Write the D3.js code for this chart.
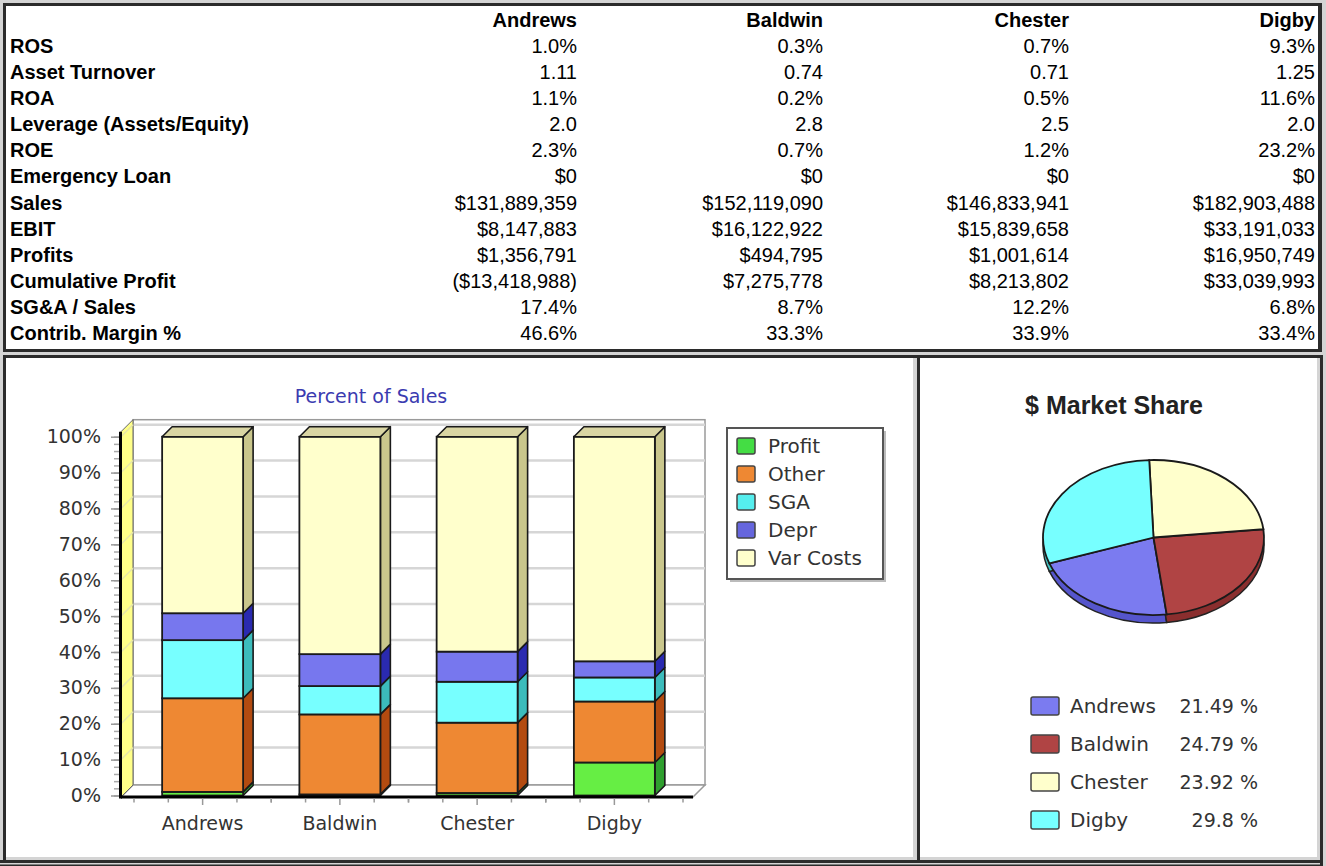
<!DOCTYPE html>
<html>
<head>
<meta charset="utf-8">
<title>Financial Summary</title>
<script src="https://cdn.jsdelivr.net/npm/d3@7"></script>
<style>
  body { margin: 0; background: #d4d4d4; }
  svg { display: block; }
</style>
</head>
<body>
<script>
// ---- data ----
var companies = ["Andrews", "Baldwin", "Chester", "Digby"];

var ros = [1.0, 0.3, 0.7, 9.3];
var assetTurnover = [1.11, 0.74, 0.71, 1.25];
var roa = [1.1, 0.2, 0.5, 11.6];
var leverage = [2.0, 2.8, 2.5, 2.0];
var roe = [2.3, 0.7, 1.2, 23.2];
var emergencyLoan = [0, 0, 0, 0];
var sales = [131889359, 152119090, 146833941, 182903488];
var ebit = [8147883, 16122922, 15839658, 33191033];
var profits = [1356791, 494795, 1001614, 16950749];
var cumulativeProfit = [-13418988, 7275778, 8213802, 33039993];
var sgaSales = [17.4, 8.7, 12.2, 6.8];
var contribMargin = [46.6, 33.3, 33.9, 33.4];

// percent of sales
var segmentKeys = ["Profit", "Other", "SGA", "Depr", "Var Costs"];
var profitPct = [1.0, 0.3, 0.7, 9.2];
var otherPct = [26.1, 22.3, 19.6, 17.0];
var sgaPct = [16.2, 7.9, 11.4, 6.7];
var deprPct = [7.5, 8.9, 8.4, 4.5];
var varCostPct = [49.2, 60.6, 59.9, 62.6];
var yTickValues = [0, 10, 20, 30, 40, 50, 60, 70, 80, 90, 100];

var marketShare = [21.49, 24.79, 23.92, 29.8];

// ---- formatting ----
var pct1 = function(v) { return d3.format(".1f")(v) + "%"; };
var dollars = function(v) {
  return v < 0 ? "($" + d3.format(",")(-v) + ")" : "$" + d3.format(",")(v);
};

var tableRows = [
  ["ROS", ros, pct1],
  ["Asset Turnover", assetTurnover, d3.format(".2f")],
  ["ROA", roa, pct1],
  ["Leverage (Assets/Equity)", leverage, d3.format(".1f")],
  ["ROE", roe, pct1],
  ["Emergency Loan", emergencyLoan, dollars],
  ["Sales", sales, dollars],
  ["EBIT", ebit, dollars],
  ["Profits", profits, dollars],
  ["Cumulative Profit", cumulativeProfit, dollars],
  ["SG&A / Sales", sgaSales, pct1],
  ["Contrib. Margin %", contribMargin, pct1]
];

var W = 1326, H = 866;
var svg = d3.select("body").append("svg").attr("width", W).attr("height", H);

// ---- panels ----
svg.append("rect").attr("width", W).attr("height", H).attr("fill", "#d4d4d4");
var dark = "#2b2b2b";
svg.append("rect").attr("x", 3).attr("y", 3).attr("width", 1319).attr("height", 349).attr("fill", dark);
svg.append("rect").attr("x", 6).attr("y", 6).attr("width", 1312).attr("height", 343).attr("fill", "#fff");

svg.append("rect").attr("x", 3).attr("y", 355).attr("width", 1320).attr("height", 3).attr("fill", dark);
svg.append("rect").attr("x", 3).attr("y", 355).attr("width", 3).attr("height", 505).attr("fill", dark);
svg.append("rect").attr("x", 6).attr("y", 358).attr("width", 907).attr("height", 499).attr("fill", "#fff");
svg.append("rect").attr("x", 917).attr("y", 355).attr("width", 3).attr("height", 505).attr("fill", dark);
svg.append("rect").attr("x", 920).attr("y", 358).attr("width", 397).attr("height", 499).attr("fill", "#fff");
svg.append("rect").attr("x", 1320).attr("y", 355).attr("width", 3).attr("height", 511).attr("fill", dark);
svg.append("rect").attr("x", 0).attr("y", 860).attr("width", 1323).attr("height", 3).attr("fill", dark);
svg.append("rect").attr("x", 0).attr("y", 864.5).attr("width", 1323).attr("height", 2).attr("fill", dark);

// ---- table ----
var tableFont = "'Liberation Sans', Arial, Helvetica, sans-serif";
var colRight = d3.scalePoint().domain(companies).range([577, 1315]);
var rowY = d3.scalePoint().domain(tableRows.map(function(r) { return r[0]; })).range([46, 333]);

var table = svg.append("g").attr("font-family", tableFont).attr("font-size", 20).attr("fill", "#000");

table.selectAll("text.head")
  .data(companies)
  .enter().append("text")
  .attr("class", "head")
  .attr("x", function(d) { return colRight(d); })
  .attr("y", 27)
  .attr("text-anchor", "end")
  .attr("font-weight", "bold")
  .text(function(d) { return d; });

var rowG = table.selectAll("g.row")
  .data(tableRows)
  .enter().append("g")
  .attr("class", "row")
  .attr("transform", function(d) { return "translate(0," + (rowY(d[0]) + 7) + ")"; });

rowG.append("text")
  .attr("x", 10)
  .attr("font-weight", "bold")
  .text(function(d) { return d[0]; });

rowG.selectAll("text.val")
  .data(function(d) { return d[1].map(function(v, i) { return {v: v, c: companies[i], f: d[2]}; }); })
  .enter().append("text")
  .attr("class", "val")
  .attr("x", function(d) { return colRight(d.c); })
  .attr("text-anchor", "end")
  .text(function(d) { return d.f(d.v); });

// ---- percent of sales (3D stacked bars) ----
var chartFont = "'DejaVu Sans', Verdana, sans-serif";
var colors = {"Profit": "#66ee44", "Other": "#ee8833", "SGA": "#77ffff", "Depr": "#7777ee", "Var Costs": "#ffffcc"};
var sideColors = {"Profit": "#2f9f2f", "Other": "#b34b10", "SGA": "#3cbcbc", "Depr": "#2a2ab0", "Var Costs": "#c9c68c"};
var legendColors = {"Profit": "#44dd44", "Other": "#ee8833", "SGA": "#55eeee", "Depr": "#6666dd", "Var Costs": "#ffffcc"};

var x = d3.scaleBand().domain(companies).range([134, 683]).paddingInner(0.41).paddingOuter(0.205);
var y = d3.scaleLinear().domain([0, 100]).range([795.5, 436.7]);
var wallD = 12, barD = 10;
var axisX = 121, floorRight = 693, floorY = 797;
var wallTop = y(100) - 5;

var bars = svg.append("g").attr("font-family", chartFont);

bars.append("text")
  .attr("x", 371).attr("y", 403)
  .attr("text-anchor", "middle")
  .attr("font-size", 19)
  .attr("fill", "#3b3bb0")
  .text("Percent of Sales");

// back wall
bars.append("rect")
  .attr("x", axisX + wallD).attr("y", wallTop - wallD)
  .attr("width", floorRight - axisX).attr("height", floorY - wallTop)
  .attr("fill", "#fff").attr("stroke", "#9a9a9a").attr("stroke-width", 1.5);

bars.selectAll("line.grid")
  .data(yTickValues.filter(function(v) { return v > 0; }))
  .enter().append("line")
  .attr("class", "grid")
  .attr("x1", axisX + wallD).attr("x2", floorRight + wallD)
  .attr("y1", function(d) { return y(d) - wallD; })
  .attr("y2", function(d) { return y(d) - wallD; })
  .attr("stroke", "#d6d6d6").attr("stroke-width", 2.5);

// floor
bars.append("path")
  .attr("d", "M" + axisX + "," + floorY + "L" + (axisX + wallD) + "," + (floorY - wallD) +
    "L" + (floorRight + wallD) + "," + (floorY - wallD) + "L" + floorRight + "," + floorY + "Z")
  .attr("fill", "#fff").attr("stroke", "#9a9a9a").attr("stroke-width", 1.5);

// left wall
bars.append("path")
  .attr("d", "M" + axisX + "," + floorY + "L" + axisX + "," + wallTop +
    "L" + (axisX + wallD) + "," + (wallTop - wallD) + "L" + (axisX + wallD) + "," + (floorY - wallD) + "Z")
  .attr("fill", "#ffff88").attr("stroke", "#666").attr("stroke-width", 1);

bars.selectAll("line.sidegrid")
  .data(yTickValues.filter(function(v) { return v > 0; }))
  .enter().append("line")
  .attr("class", "sidegrid")
  .attr("x1", axisX).attr("x2", axisX + wallD)
  .attr("y1", function(d) { return y(d); })
  .attr("y2", function(d) { return y(d) - wallD; })
  .attr("stroke", "#e6e6a8").attr("stroke-width", 1.5);

// stacked bars
var stackRows = companies.map(function(c, i) {
  return {company: c, "Profit": profitPct[i], "Other": otherPct[i], "SGA": sgaPct[i],
    "Depr": deprPct[i], "Var Costs": varCostPct[i]};
});
var series = d3.stack().keys(segmentKeys)(stackRows);
var bw = x.bandwidth();

var layer = bars.selectAll("g.layer")
  .data(series)
  .enter().append("g")
  .attr("class", "layer");

layer.selectAll("path.side")
  .data(function(s) { return s.map(function(d) { return {key: s.key, d: d}; }); })
  .enter().append("path")
  .attr("class", "side")
  .attr("d", function(o) {
    var x1 = x(o.d.data.company) + bw, yt = y(o.d[1]), yb = y(o.d[0]);
    return "M" + x1 + "," + yt + "L" + (x1 + barD) + "," + (yt - barD) +
      "L" + (x1 + barD) + "," + (yb - barD) + "L" + x1 + "," + yb + "Z";
  })
  .attr("fill", function(o) { return sideColors[o.key]; })
  .attr("stroke", "#1a1a1a").attr("stroke-width", 1.6).attr("stroke-linejoin", "round");

layer.selectAll("rect")
  .data(function(s) { return s.map(function(d) { return {key: s.key, d: d}; }); })
  .enter().append("rect")
  .attr("x", function(o) { return x(o.d.data.company); })
  .attr("y", function(o) { return y(o.d[1]); })
  .attr("width", bw)
  .attr("height", function(o) { return y(o.d[0]) - y(o.d[1]); })
  .attr("fill", function(o) { return colors[o.key]; })
  .attr("stroke", "#1a1a1a").attr("stroke-width", 1.8);

var topLayer = series[series.length - 1];
bars.selectAll("path.top")
  .data(topLayer)
  .enter().append("path")
  .attr("class", "top")
  .attr("d", function(d) {
    var x0 = x(d.data.company), yt = y(d[1]);
    return "M" + x0 + "," + yt + "L" + (x0 + barD) + "," + (yt - barD) +
      "L" + (x0 + bw + barD) + "," + (yt - barD) + "L" + (x0 + bw) + "," + yt + "Z";
  })
  .attr("fill", "#d9d5a3").attr("stroke", "#1a1a1a").attr("stroke-width", 1.6).attr("stroke-linejoin", "round");

// axis lines
bars.append("line")
  .attr("x1", axisX).attr("x2", floorRight)
  .attr("y1", floorY).attr("y2", floorY)
  .attr("stroke", "#000").attr("stroke-width", 3);
bars.append("line")
  .attr("x1", axisX - 0.5).attr("x2", axisX - 0.5)
  .attr("y1", wallTop).attr("y2", floorY + 1.5)
  .attr("stroke", "#000").attr("stroke-width", 3);

// y axis: minor ticks, then labelled ticks
var yMinor = bars.append("g")
  .attr("transform", "translate(" + (axisX - 2) + ",0)")
  .call(d3.axisLeft(y).ticks(50).tickSize(5).tickFormat(""));
yMinor.select(".domain").remove();
yMinor.selectAll("line").attr("stroke", "#aaa").attr("stroke-width", 1.5);

var yAxis = bars.append("g")
  .attr("transform", "translate(" + (axisX - 2) + ",0)")
  .call(d3.axisLeft(y).tickValues(yTickValues).tickSize(8).tickPadding(10)
    .tickFormat(function(d) { return d + "%"; }));
yAxis.select(".domain").remove();
yAxis.selectAll("line").attr("stroke", "#999").attr("stroke-width", 1.5);
yAxis.selectAll("text").attr("font-family", chartFont).attr("font-size", 19).attr("fill", "#333");

// x axis: category labels, then quarter-step ticks
var xAxis = bars.append("g")
  .attr("transform", "translate(0," + (floorY + 1) + ")")
  .call(d3.axisBottom(x).tickSize(0).tickPadding(19));
xAxis.select(".domain").remove();
xAxis.selectAll("text").attr("font-family", chartFont).attr("font-size", 19).attr("fill", "#333");

var xTicks = [];
companies.forEach(function(c) {
  var mid = x(c) + bw / 2;
  [-2, -1, 0, 1, 2].forEach(function(k) { xTicks.push({x: mid + k * x.step() / 4, major: k === 0}); });
});
bars.selectAll("line.xtick")
  .data(xTicks)
  .enter().append("line")
  .attr("class", "xtick")
  .attr("x1", function(d) { return d.x; }).attr("x2", function(d) { return d.x; })
  .attr("y1", floorY + 1.5)
  .attr("y2", function(d) { return floorY + (d.major ? 8 : 5.5); })
  .attr("stroke", "#999").attr("stroke-width", 1.5);

// legend
var lg = bars.append("g").attr("transform", "translate(727,428)");
lg.append("rect").attr("x", 3).attr("y", 3).attr("width", 156).attr("height", 151).attr("fill", "#bbb");
lg.append("rect").attr("width", 156).attr("height", 151).attr("fill", "#fff").attr("stroke", "#555").attr("stroke-width", 2);
var lgItem = lg.selectAll("g.item")
  .data(segmentKeys)
  .enter().append("g")
  .attr("class", "item")
  .attr("transform", function(d, i) { return "translate(0," + (18 + i * 28) + ")"; });
lgItem.append("rect")
  .attr("x", 10).attr("y", -8).attr("width", 18).attr("height", 16).attr("rx", 2)
  .attr("fill", function(d) { return legendColors[d]; })
  .attr("stroke", "#444").attr("stroke-width", 1.5);
lgItem.append("text")
  .attr("x", 41).attr("y", 7)
  .attr("font-size", 20).attr("fill", "#333")
  .text(function(d) { return d; });

// ---- $ market share pie ----
var pieColors = ["#7b7bf0", "#b04444", "#ffffcc", "#77ffff"];
var pieSide = ["#5555cc", "#8a2e2e", "#d6d6a0", "#44c4c4"];
var cx = 1153.5, cy = 537.5, rx = 110.5, ry = 77.5, pieDepth = 8;
var start = (90 - 199.5) * Math.PI / 180;

var pie = d3.pie().sort(null).startAngle(start).endAngle(start - 2 * Math.PI);
var arcs = pie(marketShare);
var arc = d3.arc().innerRadius(0).outerRadius(rx);

svg.append("text")
  .attr("x", 1114).attr("y", 414)
  .attr("text-anchor", "middle")
  .attr("font-family", tableFont).attr("font-weight", "bold").attr("font-size", 25)
  .attr("fill", "#222")
  .text("$ Market Share");

var pieSideG = svg.append("g")
  .attr("transform", "translate(" + cx + "," + (cy + pieDepth) + ") scale(1," + (ry / rx) + ")");
pieSideG.selectAll("path")
  .data(arcs)
  .enter().append("path")
  .attr("d", arc)
  .attr("fill", function(d, i) { return pieSide[i]; })
  .attr("stroke", "#222").attr("stroke-width", 1.5).attr("vector-effect", "non-scaling-stroke");

var pieTop = svg.append("g")
  .attr("transform", "translate(" + cx + "," + cy + ") scale(1," + (ry / rx) + ")");
pieTop.selectAll("path")
  .data(arcs)
  .enter().append("path")
  .attr("d", arc)
  .attr("fill", function(d, i) { return pieColors[i]; })
  .attr("stroke", "#1a1a1a").attr("stroke-width", 1.8).attr("vector-effect", "non-scaling-stroke");

var pl = svg.append("g").attr("font-family", chartFont).attr("fill", "#333");
var plItem = pl.selectAll("g")
  .data(companies)
  .enter().append("g")
  .attr("transform", function(d, i) { return "translate(0," + (706 + i * 38) + ")"; });
plItem.append("rect")
  .attr("x", 1031).attr("y", -9).attr("width", 28).attr("height", 18).attr("rx", 2)
  .attr("fill", function(d, i) { return pieColors[i]; })
  .attr("stroke", "#444").attr("stroke-width", 1.5);
plItem.append("text")
  .attr("x", 1070).attr("y", 7).attr("font-size", 20)
  .text(function(d) { return d; });
plItem.append("text")
  .attr("x", 1258).attr("y", 7).attr("font-size", 19).attr("text-anchor", "end")
  .text(function(d, i) { return marketShare[i] + " %"; });
</script>
</body>
</html>
